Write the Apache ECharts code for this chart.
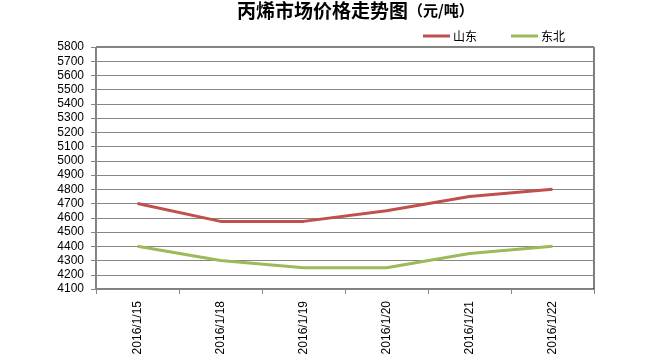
<!DOCTYPE html>
<html><head><meta charset="utf-8">
<script src="https://cdn.jsdelivr.net/npm/echarts@6/dist/echarts.min.js"></script>
<style>html,body{margin:0;padding:0;background:#fff}#c{width:650px;height:362px}</style>
</head><body><div id="c"></div>
<script>
const categories = ['2016/1/15','2016/1/18','2016/1/19','2016/1/20','2016/1/21','2016/1/22'];
const shandong = [4700, 4575, 4575, 4650, 4750, 4800];
const dongbei = [4400, 4300, 4250, 4250, 4350, 4400];
const titleText = '丙烯市场价格走势图';
const unitText = '（元/吨）';

const chart = echarts.init(document.getElementById('c'));
chart.setOption({
  animation: false,
  title: {
    text: '{b|' + titleText + '}{u|' + unitText + '}',
    left: 237, top: 1, padding: 0,
    textStyle: {
      rich: {
        b: {fontFamily: 'Noto Sans CJK SC', fontWeight: 'bold', fontSize: 19, color: '#000'},
        u: {fontFamily: 'Noto Sans CJK SC', fontSize: 15, color: '#000'}
      }
    }
  },
  legend: {
    left: 418, top: 25, itemWidth: 27, itemHeight: 3, itemGap: 34,
    icon: 'rect',
    textStyle: {fontFamily: 'Noto Sans CJK SC', fontSize: 12, color: '#000', padding: [0, 0, 0, -2]},
    data: ['山东', '东北']
  },
  grid: {left: 96, right: 56, top: 47, bottom: 73, show: true, borderColor: '#000', borderWidth: 1},
  xAxis: {
    type: 'category', data: categories, boundaryGap: true,
    axisLine: {lineStyle: {color: '#868686'}},
    axisTick: {show: true, length: 5, lineStyle: {color: '#868686'}},
    axisLabel: {rotate: 90, fontFamily: 'Liberation Sans', fontSize: 12, color: '#000', margin: 12}
  },
  yAxis: {
    type: 'value', min: 4100, max: 5800, interval: 100,
    axisLine: {show: true, lineStyle: {color: '#868686'}},
    axisTick: {show: true, length: 5, lineStyle: {color: '#868686'}},
    axisLabel: {fontFamily: 'Liberation Sans', fontSize: 12, color: '#000', margin: 12, formatter: v => String(v)},
    splitLine: {lineStyle: {color: '#868686'}}
  },
  series: [
    {name: '山东', type: 'line', data: shandong, symbol: 'none', lineStyle: {width: 3, color: '#C0504D'}, itemStyle: {color: '#C0504D'}},
    {name: '东北', type: 'line', data: dongbei, symbol: 'none', lineStyle: {width: 3, color: '#9BBB59'}, itemStyle: {color: '#9BBB59'}}
  ]
});
</script></body></html>
